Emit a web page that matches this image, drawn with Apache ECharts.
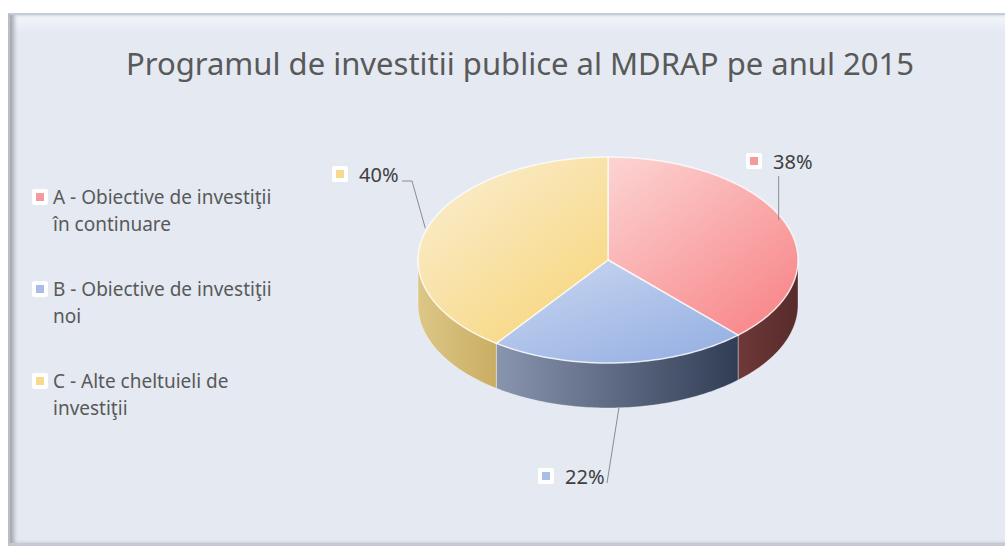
<!DOCTYPE html>
<html>
<head>
    <meta charset="UTF-8">
    <title>Programul de investitii publice</title>
    <script src="https://cdn.jsdelivr.net/npm/echarts@6/dist/echarts.min.js"></script>
    <style>
        body { margin: 0; background: #ffffff; }
        #panel {
            position: absolute; left: 8px; top: 13px; width: 997px; height: 533px;
            background: linear-gradient(to bottom, #f4f6fa 0px, #e4e9f2 18px, #e4e9f2 100%);
            border-left: 2px solid #b9bec8;
            border-top: 2px solid #c3ccd9;
            border-bottom: 3px solid #c4c9d2;
            box-shadow: inset 5px 0 4px -1px #a3a8b1;
            box-sizing: border-box;
        }
        #chart { position: absolute; left: 0; top: 0; width: 1005px; height: 555px; }
    </style>
</head>
<body>
<div id="panel"></div>
<div id="chart"></div>
<script type="text/javascript">
    // date
    var categories = ['A - Obiective de investiţii\nîn continuare', 'B - Obiective de investiţii\nnoi', 'C - Alte cheltuieli de\ninvestiţii'];
    var values = [38, 22, 40];
    var percentLabels = ['38%', '22%', '40%'];

    // aspect 3D (pozitii / culori)
    var cx = 608, cy = 260, rx = 190, ry = 103, depth = 45;
    var topColors = [['#fcd4d3', '#f8878a'], ['#cbd8f1', '#97b1e3'], ['#fbefd6', '#f7d67c']];
    var sideColors = [['#6e3838', '#582b2b'], ['#8995ae', '#313d55'], ['#ddc786', '#c9ad63']];
    var markerColors = ['#f59a9a', '#a9bde6', '#f8da8f'];
    var labelPos = [[773, 161], [565, 476], [359, 174]];

    var total = values.reduce(function (a, b) { return a + b; }, 0);
    var starts = [];
    var acc = 0;
    values.forEach(function (v) { starts.push(acc / total * 360); acc += v; });

    function pt(deg, dy) {
        var r = deg * Math.PI / 180;
        return [cx + rx * Math.sin(r), cy - ry * Math.cos(r) + (dy || 0)];
    }

    function marker(x, y, color) {
        return {
            type: 'group',
            children: [
                {type: 'rect', shape: {x: x - 8, y: y - 8, width: 16, height: 16, r: 2}, style: {fill: '#ffffff'}},
                {type: 'rect', shape: {x: x - 4, y: y - 4, width: 8, height: 8}, style: {fill: color}}
            ]
        };
    }

    function renderSide(params, api) {
        var i = params.dataIndex;
        var a0 = starts[i], a1 = starts[i] + api.value(0) / total * 360;
        var s = Math.max(a0, 90), e = Math.min(a1, 270);
        if (s >= e) return;
        var points = [];
        for (var a = s; a < e; a += 1) points.push(pt(a, 0));
        points.push(pt(e, 0));
        for (var b = e; b > s; b -= 1) points.push(pt(b, depth));
        points.push(pt(s, depth));
        return {
            type: 'polygon',
            shape: {points: points},
            style: {
                fill: new echarts.graphic.LinearGradient(0, 0, 1, 0, [
                    {offset: 0, color: sideColors[i][0]},
                    {offset: 1, color: sideColors[i][1]}
                ]),
                stroke: 'rgba(255,255,255,0.35)',
                lineWidth: 1
            }
        };
    }

    function renderTop(params, api) {
        var i = params.dataIndex;
        var a0 = starts[i], a1 = starts[i] + api.value(0) / total * 360;
        var points = [[cx, cy]];
        for (var a = a0; a < a1; a += 1) points.push(pt(a, 0));
        points.push(pt(a1, 0));
        var mid = (a0 + a1) / 2;
        var frontMid = mid > 90 && mid < 270;
        var anchor = pt(mid, frontMid ? depth : 0);
        var lp = labelPos[i];
        var line;
        if (frontMid) {
            line = [[anchor[0] - 1, anchor[1]], [lp[0] + 42, lp[1] + 7]];
        } else if (lp[0] < anchor[0] - 20) {
            line = [[anchor[0] - 2, anchor[1]], [lp[0] + 53, lp[1] + 7], [lp[0] + 43, lp[1] + 7]];
        } else {
            line = [[anchor[0] - 6, anchor[1] - 2], [anchor[0] - 6, lp[1] + 15]];
        }
        return {
            type: 'group',
            children: [
                {
                    type: 'polygon',
                    shape: {points: points},
                    style: {
                        fill: new echarts.graphic.LinearGradient(0, 0, 0.8, 1, [
                            {offset: 0, color: topColors[i][0]},
                            {offset: 1, color: topColors[i][1]}
                        ]),
                        stroke: 'rgba(255,255,255,0.75)',
                        lineWidth: 1.5
                    }
                },
                {
                    type: 'polyline',
                    shape: {points: line},
                    style: {stroke: '#8c8c8c', lineWidth: 1, fill: null}
                },
                marker(lp[0] - 19, lp[1], markerColors[i]),
                {
                    type: 'text',
                    style: {
                        text: percentLabels[i], x: lp[0], y: lp[1],
                        fill: '#404040', fontSize: 20, fontFamily: 'Noto Sans',
                        align: 'left', verticalAlign: 'middle'
                    }
                }
            ]
        };
    }

    var legendItems = [];
    categories.forEach(function (name, i) {
        var y = 197 + i * 92;
        legendItems.push(marker(40, y, markerColors[i]));
        legendItems.push({
            type: 'text', left: 53, top: y - 14,
            style: {text: name, fill: '#595959', fontSize: 19, fontFamily: 'Noto Sans', lineHeight: 27}
        });
    });

    var myChart = echarts.init(document.getElementById('chart'), null, {renderer: 'svg'});
    var option = {
        title: {
            text: 'Programul de investitii publice al MDRAP pe anul 2015',
            left: 515, top: 42, textAlign: 'center',
            textStyle: {color: '#595959', fontSize: 31, fontWeight: 'normal', fontFamily: 'Noto Sans'}
        },
        graphic: legendItems,
        series: [
            {type: 'custom', coordinateSystem: 'none', renderItem: renderSide, data: values, z: 1, silent: true},
            {type: 'custom', coordinateSystem: 'none', renderItem: renderTop, data: values, z: 2, silent: true}
        ]
    };
    option && myChart.setOption(option);
</script>
</body>
</html>
